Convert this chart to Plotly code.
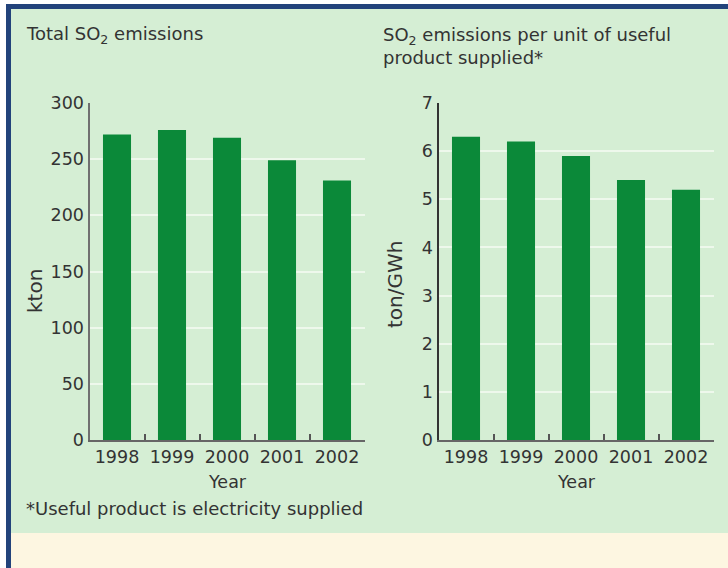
import plotly.graph_objects as go

W, H = 728, 568

years = ["1998", "1999", "2000", "2001", "2002"]
total_so2 = [272, 276, 269, 249, 231]          # kton
so2_per_unit = [6.3, 6.2, 5.9, 5.4, 5.2]       # ton/GWh

total_ticks = [0, 50, 100, 150, 200, 250, 300]
unit_ticks = [0, 1, 2, 3, 4, 5, 6, 7]

BG_GREEN = "#d5eed4"
BAR_GREEN = "#0b8939"
GRID = "#eef8ec"
TEXT = "#333333"
FONT = "DejaVu Sans"


def px_x(x):
    return x / W


def px_y(y):
    return 1 - y / H


fig = go.Figure()

fig.add_trace(go.Bar(x=years, y=total_so2, marker=dict(color=BAR_GREEN, line=dict(width=0)),
                     xaxis="x", yaxis="y"))
fig.add_trace(go.Bar(x=years, y=so2_per_unit, marker=dict(color=BAR_GREEN, line=dict(width=0)),
                     xaxis="x2", yaxis="y2"))

y_bottom, y_top = px_y(440), px_y(103)

xaxis_common = dict(
    type="category",
    range=[-0.5, 4.5],
    showline=True, linecolor="#666666", linewidth=2,
    ticks="inside", tickson="boundaries", ticklen=6, tickwidth=2, tickcolor="#555555",
    showgrid=False, zeroline=False,
    tickfont=dict(family=FONT, size=17.5, color=TEXT),
    ticklabelstandoff=0,
    automargin=False,
    fixedrange=True,
)

yaxis_common = dict(
    showline=True, linewidth=2,
    ticks="", showgrid=True, gridcolor=GRID, gridwidth=2, zeroline=False,
    tickfont=dict(family=FONT, size=17.5, color=TEXT),
    domain=[y_bottom, y_top],
    automargin=False,
    fixedrange=True,
)

fig.update_layout(
    width=W, height=H,
    margin=dict(l=0, r=0, t=0, b=0, autoexpand=False),
    paper_bgcolor=BG_GREEN, plot_bgcolor=BG_GREEN,
    showlegend=False,
    bargap=0.49,
    xaxis=dict(xaxis_common, domain=[px_x(89.5), px_x(364.5)], anchor="y"),
    yaxis=dict(yaxis_common, range=[0, 300], tickvals=total_ticks, linecolor="#707070", anchor="x"),
    xaxis2=dict(xaxis_common, domain=[px_x(438.5), px_x(713.5)], anchor="y2"),
    yaxis2=dict(yaxis_common, range=[0, 7], tickvals=unit_ticks, linecolor="#333333", anchor="x2"),
)

# frame: white edge, blue border on top/left, cream band at the bottom
fig.add_shape(type="rect", xref="paper", yref="paper", x0=0, x1=1, y0=px_y(4), y1=1,
              fillcolor="white", line_width=0, layer="below")
fig.add_shape(type="rect", xref="paper", yref="paper", x0=0, x1=px_x(6), y0=0, y1=1,
              fillcolor="white", line_width=0, layer="below")
fig.add_shape(type="rect", xref="paper", yref="paper", x0=px_x(6), x1=1, y0=px_y(9), y1=px_y(4),
              fillcolor="#22437b", line_width=0, layer="below")
fig.add_shape(type="rect", xref="paper", yref="paper", x0=px_x(6), x1=px_x(11), y0=0, y1=px_y(4),
              fillcolor="#22437b", line_width=0, layer="below")
fig.add_shape(type="rect", xref="paper", yref="paper", x0=px_x(11), x1=1, y0=0, y1=px_y(533),
              fillcolor="#fdf6e1", line_width=0, layer="below")


def note(text, x, y, size=18, xanchor="left", angle=0):
    fig.add_annotation(text=text, x=px_x(x), y=px_y(y), xref="paper", yref="paper",
                       xanchor=xanchor, yanchor="middle", showarrow=False, textangle=angle,
                       align="left", font=dict(family=FONT, size=size, color=TEXT))


note("Total SO<sub>2</sub> emissions", 24, 35)
note("SO<sub>2</sub> emissions per unit of useful<br>product supplied*", 381, 46)
note("kton", 35, 291, size=20, xanchor="center", angle=-90)
note("ton/GWh", 395, 284, size=20, xanchor="center", angle=-90)
note("Year", 227, 482, size=17.5, xanchor="center")
note("Year", 576, 482, size=17.5, xanchor="center")
note("*Useful product is electricity supplied", 24, 508)

fig.write_html("out.html", config={"displayModeBar": False},
               post_script="document.body.style.margin = '0';")
